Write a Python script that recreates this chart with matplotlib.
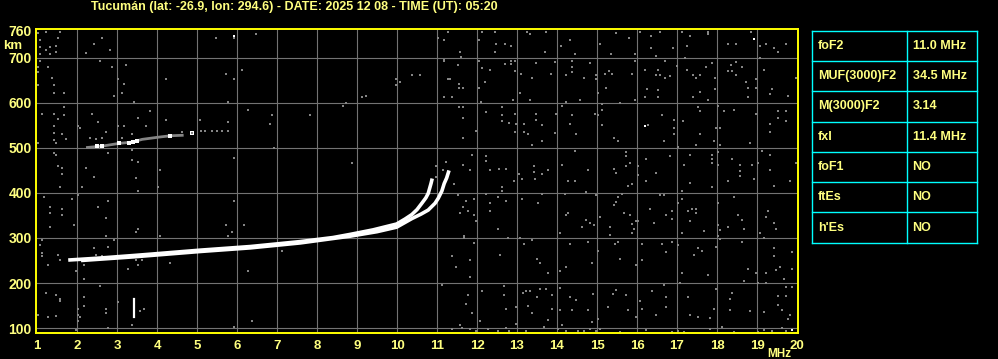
import matplotlib
matplotlib.use('Agg')
import matplotlib.pyplot as plt

# ionogram Tucuman 2025-12-08 05:20 UT
title = 'Tucumán (lat: -26.9, lon: 294.6) - DATE: 2025 12 08 - TIME (UT): 05:20'

# O-mode and X-mode F2 traces (MHz, km)
o_freq = [1.78, 2.5, 3.4, 3.83, 5.08, 6.33, 7.58, 8.4, 8.83, 9.4, 9.99, 10.2, 10.37, 10.5, 10.62, 10.72, 10.78, 10.85, 10.88]
o_km = [251, 255, 261, 264, 273, 281, 292, 301, 308, 318, 331, 342, 352, 363, 377, 389, 399, 421, 432]
x_freq = [2.1, 3.4, 5.08, 6.33, 7.58, 8.83, 9.5, 9.99, 10.37, 10.6, 10.78, 10.95, 11.03, 11.12, 11.18, 11.24, 11.3]
x_km = [250, 258, 270, 278, 289, 304, 314, 324, 343, 353, 362, 377, 388, 404, 421, 433, 450]

# second hop echo
hop_freq = [2.26, 2.63, 3.05, 3.38, 3.63, 4.05, 4.34, 4.63]
hop_km = [501, 504, 510, 513, 519, 524, 527, 528]
hop_white_freq = [2.5, 2.62, 3.05, 3.3, 3.4, 3.5, 4.33, 4.88]
hop_white_km = [505, 505, 510, 512, 513, 516, 527, 533]
hop_dot_freq = [4.63, 4.88, 5.09, 5.2, 5.38, 5.51, 5.63, 5.78]
hop_dot_km = [536, 533, 537, 537, 537, 537, 537, 537]

# short vertical echo near 3.4 MHz
spike_freq = [3.43, 3.43]
spike_km = [125, 165]

# scattered interference dots (MHz, km)
noise = [
    (1.02, 756), (1.23, 758), (1.58, 758), (1.08, 739), (1.08, 724), (1.23, 717), (1.33, 724), (1.33, 708),
    (1.48, 726), (1.48, 713), (1.53, 744), (1.08, 708), (1.08, 692), (1.03, 679), (1.03, 668), (1.03, 639),
    (1.28, 679), (1.38, 656), (1.43, 639), (1.43, 621), (1.68, 621), (2.23, 711), (2.43, 730), (2.63, 744),
    (2.83, 717), (2.58, 692), (2.88, 679), (3.23, 683), (3.03, 652), (3.18, 643), (2.93, 616), (3.13, 621),
    (4.23, 652), (5.48, 744), (5.93, 744), (6.48, 753), (6.13, 674), (5.73, 665), (5.93, 652), (11.03, 744),
    (11.18, 739), (11.28, 757), (11.18, 696), (11.18, 692), (11.28, 652), (11.18, 612), (10.37, 661),
    (10.57, 661), (9.98, 652), (9.98, 639), (10.08, 647), (9.13, 612), (9.23, 615), (8.65, 594), (8.73, 599),
    (1.13, 576), (1.43, 576), (1.68, 591), (1.68, 573), (1.53, 564), (1.43, 548), (1.43, 533), (1.63, 530),
    (1.43, 518), (1.73, 519), (1.48, 510), (1.03, 510), (2.03, 549), (2.08, 545), (2.38, 576), (2.53, 558),
    (2.73, 536), (3.03, 549), (3.18, 549), (3.43, 603), (3.53, 567), (3.73, 549), (3.83, 581), (4.23, 561),
    (5.08, 563), (5.78, 603), (5.78, 558), (6.28, 585), (6.88, 573), (6.83, 554), (7.83, 573), (3.38, 530),
    (2.33, 522), (2.48, 519), (2.63, 522), (3.13, 522), (3.38, 496), (3.53, 469), (3.38, 473), (2.78, 488),
    (1.42, 488), (1.48, 484), (1.53, 460), (1.63, 455), (1.63, 442), (2.23, 455), (2.43, 436), (1.58, 413),
    (2.13, 413), (3.48, 433), (3.53, 404), (4.03, 413), (4.08, 451), (5.93, 478), (6.93, 500), (1.18, 391),
    (1.33, 369), (1.33, 355), (1.63, 364), (1.63, 351), (1.88, 387), (2.03, 396), (2.53, 369), (2.78, 382),
    (2.73, 345), (1.93, 328), (1.33, 324), (3.53, 319), (5.73, 328), (6.18, 328), (5.93, 382),
    (8.88, 466), (10.98, 459), (11.15, 452), (10.97, 436), (11.23, 469),
    (1.08, 285), (1.13, 295), (1.13, 266), (1.13, 259), (1.28, 241), (1.53, 263), (1.58, 250), (1.98, 227),
    (2.18, 208), (2.23, 250), (2.18, 241), (2.43, 277), (2.48, 263), (2.63, 259), (2.73, 304), (2.78, 281),
    (2.93, 295), (2.93, 254), (3.28, 232), (3.48, 313), (3.48, 250), (3.53, 241), (3.63, 250), (4.08, 304),
    (4.33, 245), (5.78, 304), (5.88, 313), (6.28, 227), (7.13, 272), (1.23, 178), (1.48, 173), (1.58, 164),
    (1.58, 160), (2.03, 142), (2.03, 128), (2.08, 124), (2.03, 115), (2.18, 170), (2.18, 149), (2.58, 194),
    (2.73, 142), (2.73, 133), (3.03, 158), (3.58, 137), (3.68, 142), (3.38, 106), (1.02, 130), (1.28, 125),
    (1.48, 127), (1.98, 96), (2.78, 100), (5.93, 103), (6.38, 116), (11.13, 196), (11.38, 259), (11.48, 236),
    (11.83, 250), (11.83, 214), (11.93, 289), (11.68, 304), (11.78, 173), (11.73, 154), (11.88, 134),
    (12.08, 116), (12.13, 182), (11.58, 107), (11.83, 98), (11.38, 97), (11.63, 101), (11.98, 94), (12.28, 97),
    (12.53, 93),
    (12.12, 758), (12.44, 758), (13.25, 758), (13.32, 753), (13.73, 758), (15.48, 756), (15.79, 744),
    (16.08, 758), (16.58, 758), (17.13, 758), (17.78, 758), (17.78, 753), (17.33, 748), (18.85, 758),
    (12.05, 739), (12.48, 730), (12.69, 730), (12.84, 726), (14.33, 739), (14.09, 726), (15.08, 730),
    (16.34, 748), (16.34, 721), (16.89, 721), (17.24, 726), (18.28, 730), (18.48, 730), (19.08, 726),
    (19.23, 730), (19.43, 721), (19.53, 713), (19.73, 730), (11.57, 713), (12.44, 713), (13.69, 713),
    (14.44, 708), (15.34, 708), (15.94, 708), (16.48, 704), (11.59, 702), (12.04, 692), (12.86, 693),
    (12.94, 693), (13.48, 688), (13.94, 690), (14.38, 692), (14.83, 688), (15.94, 692), (16.69, 692),
    (17.19, 699), (17.88, 688), (18.48, 690), (19.07, 699), (11.53, 683), (12.13, 677), (12.33, 674),
    (12.69, 687), (12.84, 686), (12.94, 671), (13.09, 664), (14.38, 680), (14.38, 668), (15.3, 670),
    (15.19, 665), (15.38, 665), (15.88, 665), (16.19, 674), (16.53, 673), (16.48, 661), (16.58, 661),
    (16.83, 659), (16.69, 656), (17.0, 681), (17.24, 674), (17.39, 661), (17.48, 656), (17.58, 661),
    (17.73, 679), (17.94, 656), (18.34, 683), (18.38, 670), (18.28, 670), (18.63, 679), (18.48, 661),
    (19.18, 674), (19.98, 656), (11.33, 652), (12.19, 647), (13.38, 656), (13.84, 665), (14.23, 661),
    (14.68, 656), (14.98, 661), (14.98, 652), (11.54, 643), (11.54, 634), (11.64, 634), (12.04, 634),
    (15.23, 634), (16.24, 630), (16.53, 628), (17.58, 625), (17.94, 630), (18.73, 647), (18.98, 652),
    (18.78, 634), (19.38, 630), (19.33, 619), (19.78, 616), (18.98, 634), (15.03, 622), (13.08, 621),
    (11.38, 612), (12.89, 607), (13.33, 607), (14.58, 607), (12.09, 603), (14.23, 603), (15.94, 607),
    (16.19, 612), (16.53, 612), (17.39, 612), (17.78, 607), (18.78, 612), (11.54, 590), (11.64, 590),
    (12.63, 590), (12.23, 579), (12.63, 573), (11.64, 567), (12.63, 559), (12.79, 556), (12.94, 576),
    (12.98, 553), (13.17, 554), (13.48, 576), (13.48, 563), (13.63, 550), (13.98, 576), (14.13, 594),
    (14.38, 572), (14.33, 553), (14.94, 576), (15.03, 572), (15.13, 597), (15.13, 585), (15.13, 550),
    (15.58, 599), (16.28, 550), (16.63, 572), (16.93, 563), (16.93, 545), (17.14, 559), (17.53, 590),
    (17.58, 581), (17.98, 545), (18.03, 594), (18.08, 545), (18.18, 581), (18.43, 585), (18.98, 576),
    (19.33, 553), (19.53, 581), (19.53, 567), (19.73, 581), (19.73, 559),
    (11.64, 521), (11.98, 538), (12.94, 535), (13.17, 535), (13.28, 530), (13.38, 507), (13.63, 516),
    (13.94, 533), (14.47, 530), (15.43, 521), (15.53, 515), (16.68, 515), (16.93, 530), (17.03, 503),
    (17.48, 506), (17.58, 530), (17.93, 515), (18.08, 507), (18.83, 512), (19.33, 535), (11.88, 484),
    (12.23, 481), (12.23, 472), (11.64, 463), (11.83, 450), (12.33, 450), (12.54, 454), (12.73, 454),
    (13.04, 441), (13.13, 432), (13.43, 459), (13.43, 447), (13.63, 442), (13.78, 450), (14.13, 463),
    (14.44, 494), (14.78, 450), (15.43, 453), (15.48, 444), (15.73, 490), (15.73, 481), (15.83, 467),
    (15.73, 459), (16.03, 459), (16.03, 439), (16.23, 476), (16.48, 445), (16.83, 481), (17.33, 485),
    (17.18, 461), (17.88, 485), (17.88, 476), (17.88, 467), (18.03, 490), (18.03, 463), (18.38, 476),
    (18.58, 461), (18.58, 448), (18.58, 438), (18.88, 463), (19.03, 466), (19.13, 494), (19.33, 485),
    (19.33, 450), (18.93, 432), (19.98, 467), (11.43, 419), (12.63, 413), (12.63, 404), (12.93, 427),
    (13.44, 431), (14.28, 427), (14.44, 427), (15.88, 420), (15.78, 416), (16.23, 427), (17.33, 421),
    (17.88, 413), (18.28, 427), (19.43, 416), (19.83, 427), (11.53, 395), (12.23, 398), (13.63, 398),
    (14.19, 398), (14.73, 401), (14.98, 396), (15.63, 398), (17.13, 404), (11.73, 381), (11.93, 386),
    (12.53, 390), (12.73, 381), (12.33, 377), (13.13, 386), (13.53, 377), (11.64, 368), (11.78, 361),
    (11.57, 355), (11.93, 350), (11.98, 337), (12.33, 359), (14.23, 350), (14.28, 355), (14.73, 341),
    (14.83, 333), (14.93, 328), (14.63, 324), (15.08, 347), (15.43, 373), (15.48, 379), (15.53, 390),
    (15.68, 355), (15.83, 350), (15.88, 331), (15.98, 337), (16.03, 337), (15.93, 319), (15.33, 325),
    (16.33, 365), (16.43, 333), (16.58, 395), (16.68, 395), (16.73, 350), (16.88, 359), (16.88, 343),
    (17.03, 377), (17.13, 386), (17.28, 359), (17.38, 365), (17.48, 364), (17.48, 355), (17.33, 337),
    (17.68, 315), (18.03, 377), (18.03, 328), (18.08, 318), (18.28, 324), (18.43, 390), (18.53, 350),
    (18.63, 341), (18.68, 319), (19.08, 312), (19.28, 359), (19.23, 346), (19.43, 333), (19.48, 319),
    (11.68, 301), (12.53, 319), (12.78, 301), (13.08, 301), (14.08, 310), (15.33, 306), (15.88, 310),
    (17.13, 310), (18.08, 297), (19.18, 301),
    (12.57, 263), (13.17, 286), (13.38, 295), (13.58, 244), (13.5, 254), (13.78, 223), (14.08, 227),
    (14.23, 236), (14.32, 286), (14.78, 290), (14.88, 245), (15.03, 272), (15.44, 286), (15.53, 290),
    (15.58, 254), (15.98, 241), (16.13, 287), (16.13, 250), (16.63, 286), (16.73, 268), (16.88, 290),
    (17.03, 284), (17.13, 223), (17.43, 263), (17.53, 277), (17.63, 272), (17.78, 218), (17.98, 281),
    (18.03, 304), (18.63, 290), (18.78, 232), (18.68, 205), (18.98, 223), (19.23, 223), (19.43, 277),
    (19.43, 259), (19.48, 230), (19.58, 236), (19.68, 209), (19.88, 268), (19.88, 232), (12.68, 194),
    (12.68, 173), (13.15, 178), (13.23, 182), (13.33, 182), (13.5, 169), (13.58, 187), (13.73, 187),
    (13.88, 173), (14.08, 190), (14.33, 169), (14.48, 163), (14.9, 176), (15.4, 176), (15.48, 184),
    (15.73, 173), (16.08, 160), (16.38, 182), (16.68, 196), (16.73, 169), (17.08, 200), (17.28, 169),
    (17.98, 187), (18.38, 178), (18.33, 164), (19.03, 200), (19.23, 200), (19.53, 172), (19.73, 172),
    (19.73, 191), (19.88, 191), (12.73, 142), (12.98, 146), (13.28, 149), (13.38, 133), (13.78, 118),
    (13.88, 143), (14.08, 140), (14.38, 140), (14.78, 140), (14.88, 113), (15.03, 119), (15.28, 146),
    (15.78, 139), (15.98, 124), (16.13, 142), (16.48, 130), (16.73, 146), (17.33, 128), (17.53, 124),
    (17.83, 122), (17.93, 143), (18.33, 140), (18.83, 137), (19.18, 136), (19.53, 151), (19.63, 139),
    (19.78, 121), (19.83, 128), (12.73, 101), (12.8, 94), (12.98, 109), (13.23, 93), (13.68, 103),
    (14.03, 97), (14.13, 106), (14.23, 94), (14.53, 94), (14.68, 94), (14.83, 97), (14.98, 93), (15.08, 97),
    (15.58, 91), (16.23, 96), (16.88, 91), (17.03, 94), (17.18, 91), (17.83, 97), (18.13, 103), (18.43, 91),
    (19.03, 91), (19.18, 96), (19.38, 93), (19.63, 100), (19.73, 93),
]
noise_white = [(18.93, 741), (5.93, 748), (16.19, 548), (19.88, 96)]

x_ticks = list(range(1, 21))
y_ticks = [100, 200, 300, 400, 500, 600, 700, 760]
x_grid = list(range(2, 20))
y_grid = [100, 200, 300, 400, 500, 600, 700]

param_names = ['foF2', 'MUF(3000)F2', 'M(3000)F2', 'fxI', 'foF1', 'ftEs', "h'Es"]
param_values = ['11.0 MHz', '34.5 MHz', '3.14', '11.4 MHz', 'NO', 'NO', 'NO']

txt_color = '#ffff80'
font = ['Liberation Sans', 'DejaVu Sans']

fig = plt.figure(figsize=(9.98, 3.59), dpi=100, facecolor='black')
ax = fig.add_axes([0.0361, 0.0724, 0.7635, 0.8468], facecolor='black')

for g in x_grid:
    ax.axvline(g, color='#737373', lw=0.8, zorder=1)
for g in y_grid:
    ax.axhline(g, color='#737373', lw=0.8, zorder=1)

nx = [p[0] for p in noise]
ny = [p[1] for p in noise]
ax.plot(nx, ny, 's', ms=1.8, mew=0, color='#858585', zorder=2)
ax.plot([p[0] for p in noise_white], [p[1] for p in noise_white], 's', ms=1.8, mew=0, color='white', zorder=2)

ax.plot(hop_freq, hop_km, color='#858585', lw=2.0, zorder=3)
ax.plot(hop_white_freq, hop_white_km, 's', ms=2.4, mew=0, color='white', zorder=3)
ax.plot(hop_dot_freq, hop_dot_km, 's', ms=1.8, mew=0, color='#858585', zorder=3)

ax.plot(o_freq, o_km, color='white', lw=2.6, solid_capstyle='butt', zorder=4)
ax.plot(x_freq, x_km, color='white', lw=2.6, solid_capstyle='butt', zorder=4)
ax.plot(spike_freq, spike_km, color='white', lw=1.6, zorder=4)

ax.set_xlim(0.975, 20.025)
ax.set_ylim(89, 764)
for s in ax.spines.values():
    s.set_color('#ffff00')
    s.set_linewidth(1.4)

ax.set_xticks(x_ticks)
ax.set_xticklabels([str(v) for v in x_ticks])
ax.set_yticks(y_ticks)
ax.set_yticklabels([str(v) for v in y_ticks])
ax.tick_params(length=0, labelcolor=txt_color, labelsize=10)
ax.tick_params(axis='x', pad=5, labelsize=9.5)
ax.tick_params(axis='y', pad=3)
for lab in ax.get_xticklabels() + ax.get_yticklabels():
    lab.set_fontweight('bold')
    lab.set_family(font)

fig.text(0.013, 1 - 46 / 359, 'km', color=txt_color, fontsize=9.5, fontweight='bold', family=font, ha='center', va='center')
fig.text(791 / 998, 1 - 354 / 359, 'MHz', color=txt_color, fontsize=8.5, fontweight='bold', family=font, ha='right', va='center')
fig.text(0.295, 1 - 7 / 359, title, color=txt_color, fontsize=9, fontweight='bold', family=font, ha='center', va='center')

# parameter table
tax = fig.add_axes([0.8136, 0.324, 0.1653, 0.5905])
tax.set_xlim(0, 1)
tax.set_ylim(0, 7)
tax.axis('off')
for r in range(8):
    tax.plot([0, 1], [r, r], color='#00ffff', lw=1.0, clip_on=False)
for c in [0, 0.576, 1]:
    tax.plot([c, c], [0, 7], color='#00ffff', lw=1.0, clip_on=False)
for i, (n, v) in enumerate(zip(param_names, param_values)):
    yc = 7 - i - 0.5
    tax.text(0.035, yc, n, color=txt_color, fontsize=9, fontweight='bold', family=font, va='center')
    tax.text(0.61, yc, v, color=txt_color, fontsize=9, fontweight='bold', family=font, va='center')

fig.savefig('out.png', dpi=100, facecolor='black')
